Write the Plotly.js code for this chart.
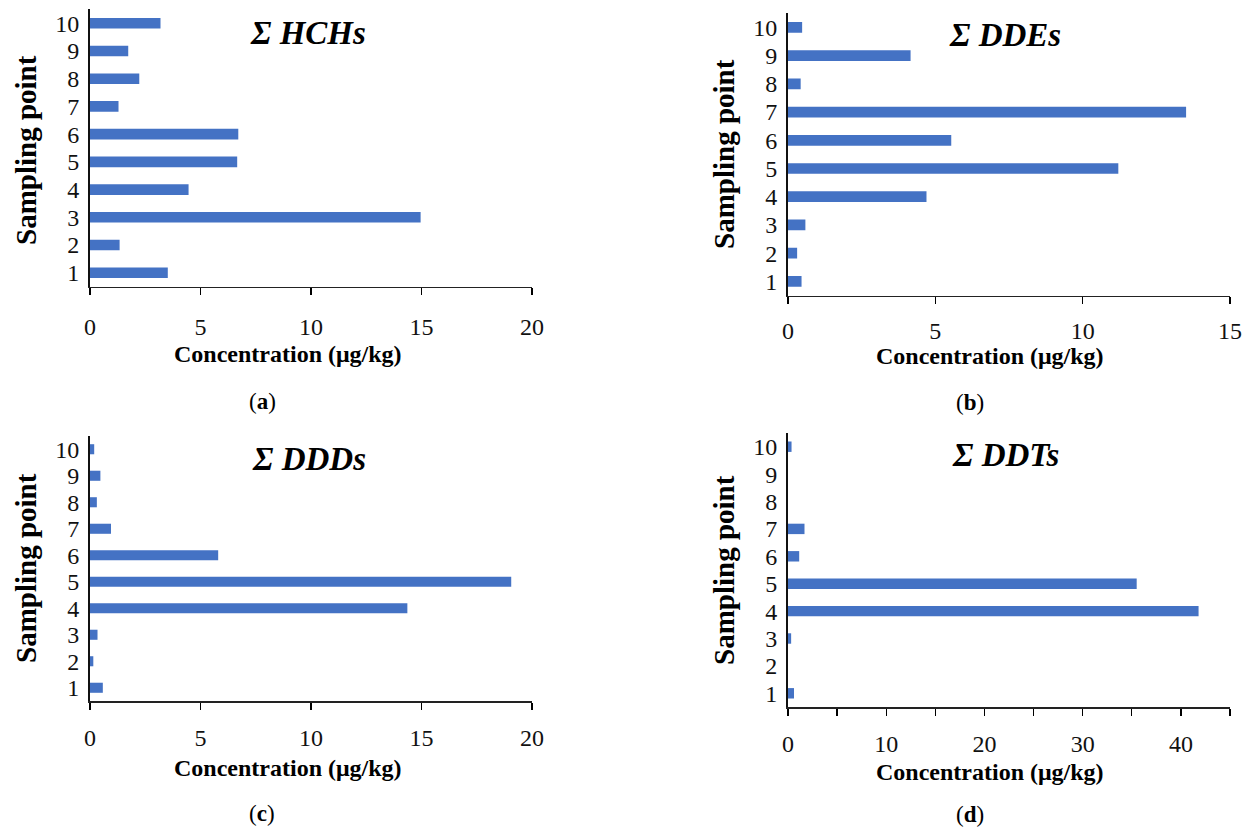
<!DOCTYPE html>
<html>
<head>
<meta charset="utf-8">
<script src="https://cdn.plot.ly/plotly-3.0.1.min.js"></script>
<style>html,body{margin:0;padding:0;background:#fff;}#chart{width:1249px;height:828px;}</style>
</head>
<body>
<div id="chart"></div>
<script>
const samplingPoints = [1, 2, 3, 4, 5, 6, 7, 8, 9, 10];
const hchs = [3.52, 1.34, 14.96, 4.46, 6.66, 6.71, 1.29, 2.23, 1.73, 3.19];
const ddes = [0.46, 0.31, 0.59, 4.70, 11.21, 5.54, 13.51, 0.43, 4.16, 0.48];
const ddds = [0.58, 0.15, 0.34, 14.36, 19.06, 5.80, 0.95, 0.31, 0.47, 0.19];
const ddts = [0.61, 0, 0.32, 41.8, 35.5, 1.14, 1.68, 0, 0, 0.36];
const panelTitles = ['Σ HCHs', 'Σ DDEs', 'Σ DDDs', 'Σ DDTs'];
const panelLetters = ['a', 'b', 'c', 'd'];
const xTickVals20 = [0, 5, 10, 15, 20];
const xTickVals15 = [0, 5, 10, 15];
const xTickVals45 = [0, 5, 10, 15, 20, 25, 30, 35, 40, 45];
const xTickText45 = ['0', '', '10', '', '20', '', '30', '', '40', ''];
const yLabel = 'Sampling point';
const xLabel = 'Concentration (μg/kg)';

const W = 1249, H = 828;
const px = v => v / W;
const py = v => 1 - v / H;
const serif = '"Liberation Serif", "DejaVu Serif", serif';
const barColor = '#4472C4';

const panels = [
  {vals: hchs, xd: [90, 532], yd: [9.3, 286.7], range: [0, 20], tv: xTickVals20, tt: xTickVals20.map(String),
   title: [308, 33], xl: [288, 354], yl: [26, 150], cap: [262, 402], xs: 11},
  {vals: ddes, xd: [788, 1230], yd: [13.3, 295.5], range: [0, 15], tv: xTickVals15, tt: xTickVals15.map(String),
   title: [1005, 35], xl: [990, 356], yl: [724, 154], cap: [970, 403], xs: 6},
  {vals: ddds, xd: [90, 532], yd: [436, 701], range: [0, 20], tv: xTickVals20, tt: xTickVals20.map(String),
   title: [309, 459], xl: [288, 768], yl: [26, 568], cap: [262, 813], xs: 8},
  {vals: ddts, xd: [788, 1230], yd: [433, 707], range: [0, 45], tv: xTickVals45, tt: xTickText45,
   title: [1005, 455], xl: [990, 772], yl: [724, 570], cap: [970, 814], xs: 8}
];

const data = [];
const layout = {
  width: W, height: H,
  margin: {l: 0, r: 0, t: 0, b: 0},
  paper_bgcolor: '#fff', plot_bgcolor: '#fff',
  showlegend: false,
  annotations: []
};

panels.forEach((p, i) => {
  const n = i === 0 ? '' : String(i + 1);
  data.push({
    type: 'bar', orientation: 'h',
    x: p.vals, y: samplingPoints,
    xaxis: 'x' + n, yaxis: 'y' + n,
    width: 0.38,
    marker: {color: barColor, line: {width: 0}},
    hoverinfo: 'x+y'
  });
  layout['xaxis' + n] = {
    domain: [px(p.xd[0]), px(p.xd[1])],
    anchor: 'y' + n,
    range: p.range, fixedrange: true,
    tickmode: 'array', tickvals: p.tv, ticktext: p.tt,
    ticks: 'outside', ticklen: 7, tickwidth: 1.3, tickcolor: '#000',
    ticklabelstandoff: p.xs,
    showline: true, linecolor: '#222', linewidth: 1.5,
    showgrid: false, zeroline: false,
    tickfont: {family: serif, size: 24, color: '#111'}
  };
  layout['yaxis' + n] = {
    domain: [py(p.yd[1]), py(p.yd[0])],
    anchor: 'x' + n,
    range: [0.5, 10.5], fixedrange: true,
    tickmode: 'array', tickvals: samplingPoints, ticktext: samplingPoints.map(String),
    ticks: '', ticklabelstandoff: 4,
    showline: true, linecolor: '#111', linewidth: 2,
    showgrid: false, zeroline: false,
    tickfont: {family: serif, size: 24, color: '#111'}
  };
  layout.annotations.push(
    {xref: 'paper', yref: 'paper', x: px(p.title[0]), y: py(p.title[1]), xanchor: 'center', yanchor: 'middle',
     text: '<b><i>' + panelTitles[i] + '</i></b>', showarrow: false,
     font: {family: serif, size: 33, color: '#000'}},
    {xref: 'paper', yref: 'paper', x: px(p.xl[0]), y: py(p.xl[1]), xanchor: 'center', yanchor: 'middle',
     text: '<b>' + xLabel + '</b>', showarrow: false,
     font: {family: serif, size: 24, color: '#000'}},
    {xref: 'paper', yref: 'paper', x: px(p.yl[0]), y: py(p.yl[1]), xanchor: 'center', yanchor: 'middle',
     text: '<b>' + yLabel + '</b>', showarrow: false, textangle: -90,
     font: {family: serif, size: 29, color: '#000'}},
    {xref: 'paper', yref: 'paper', x: px(p.cap[0]), y: py(p.cap[1]), xanchor: 'center', yanchor: 'middle',
     text: '(<b>' + panelLetters[i] + '</b>)', showarrow: false,
     font: {family: serif, size: 23, color: '#000'}}
  );
});

Plotly.newPlot('chart', data, layout, {displayModeBar: false, staticPlot: true});
</script>
</body>
</html>
